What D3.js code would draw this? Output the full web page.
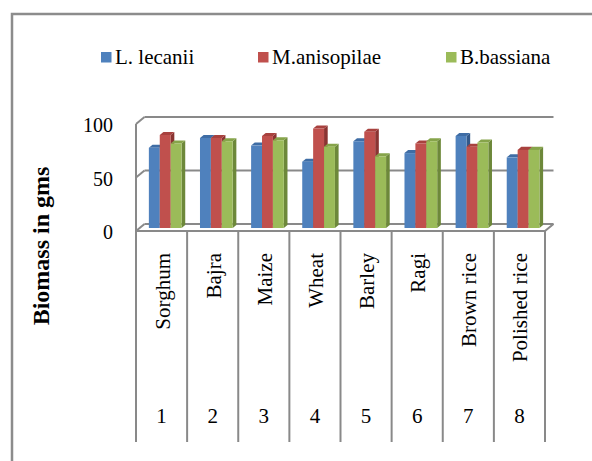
<!DOCTYPE html>
<html>
<head>
<meta charset="utf-8">
<script src="https://cdn.jsdelivr.net/npm/d3@7"></script>
<style>
  html, body { margin: 0; padding: 0; background: #fff; }
  svg { display: block; }
  text { font-family: "Liberation Serif", "Times New Roman", serif; fill: #000; }
</style>
</head>
<body>
<script>
// Grains used as growth media
const categories = ["Sorghum", "Bajra", "Maize", "Wheat", "Barley", "Ragi", "Brown rice", "Polished rice"];
const categoryNumbers = ["1", "2", "3", "4", "5", "6", "7", "8"];
const seriesNames = ["L. lecanii", "M.anisopilae", "B.bassiana"];
// Biomass (gms) per fungus
const lecanii     = [75, 84, 77, 62, 81, 70, 86, 66];
const anisopilae  = [87, 84, 86, 93, 90, 79, 76, 73];
const bassiana    = [79, 81, 82, 76, 67, 81, 80, 73];
const yTicks = [0, 50, 100];

const seriesValues = [lecanii, anisopilae, bassiana];
const palette = [
  { front: "#4F81BD", side: "#33598A", top: "#3F6DA5" },
  { front: "#C0504D", side: "#8A3432", top: "#A8413E" },
  { front: "#9BBB59", side: "#6D883A", top: "#86A44A" }
];

const W = 592, H = 461;
const svg = d3.select("body").append("svg").attr("width", W).attr("height", H);

// Outer chart frame
svg.append("rect")
  .attr("x", 12).attr("y", 14).attr("width", 620).attr("height", 480)
  .attr("fill", "none").attr("stroke", "#8c8c8c").attr("stroke-width", 2.5);

// Oblique 3D projection: depth d in [0,1] from front to back
const depthDX = 8.5, depthDY = -7;
const P = (px, py, d) => [px + depthDX * d, py + depthDY * d];

const x = d3.scaleBand().domain(categories).range([136, 545]);
const y = d3.scaleLinear().domain([0, 100]).range([231, 124]);

const gridColor = "#898989";
const line = d3.line();
const walls = svg.append("g").attr("fill", "none").attr("stroke", gridColor).attr("stroke-width", 2);

// Back wall gridlines and side wall diagonals
yTicks.forEach(t => {
  walls.append("path").attr("d", line([P(136, y(t), 1), P(545, y(t), 1)]));
  walls.append("path").attr("d", line([P(136, y(t), 0), P(136, y(t), 1)]));
});
// Side wall front edge
walls.append("path").attr("d", line([[136, y(100)], [136, y(0)]]));
// Floor front edge and right edge
walls.append("path").attr("d", line([[136, y(0)], [545, y(0)], P(545, y(0), 1)]));

// Category dividers below the floor
const dividerX = categories.map(c => x(c)).concat([x.range()[1]]);
svg.append("g").attr("stroke", gridColor).attr("stroke-width", 2)
  .selectAll("line").data(dividerX).join("line")
  .attr("x1", d => d).attr("x2", d => d)
  .attr("y1", y(0)).attr("y2", 442);

// Y axis tick labels
svg.append("g").selectAll("text").data(yTicks).join("text")
  .attr("x", 113).attr("y", d => y(d) + 1)
  .attr("text-anchor", "end").attr("dominant-baseline", "central")
  .attr("font-size", 20)
  .text(d => d);

// 3D clustered columns
const groupX = d3.scaleBand().domain(categories).range([136, 545])
  .paddingInner(0.36).paddingOuter(0.18);
const barX = d3.scaleBand().domain(seriesNames).range([0, groupX.bandwidth()]);
const d0 = 0.43, d1 = 0.86;

const bars = svg.append("g");
categories.forEach((cat, ci) => {
  seriesNames.forEach((s, si) => {
    const v = seriesValues[si][ci];
    const xl = groupX(cat) + barX(s);
    const xr = xl + barX.bandwidth();
    const yt = y(v), yb = y(0);
    const col = palette[si];
    const poly = pts => "M" + pts.map(p => p.join(",")).join("L") + "Z";
    bars.append("path").attr("fill", col.side)
      .attr("d", poly([P(xr, yt, d0), P(xr, yt, d1), P(xr, yb, d1), P(xr, yb, d0)]));
    bars.append("path").attr("fill", col.top)
      .attr("d", poly([P(xl, yt, d0), P(xr, yt, d0), P(xr, yt, d1), P(xl, yt, d1)]));
    bars.append("path").attr("fill", col.front)
      .attr("d", poly([P(xl, yt, d0), P(xr, yt, d0), P(xr, yb, d0), P(xl, yb, d0)]));
  });
});

// Category names, rotated
svg.append("g").selectAll("text").data(categories).join("text")
  .attr("transform", d => `translate(${x(d) + x.bandwidth() / 2 + 8},253) rotate(-90)`)
  .attr("text-anchor", "end")
  .attr("font-size", 21)
  .text(d => d);

// Category numbers
svg.append("g").selectAll("text").data(categories).join("text")
  .attr("x", d => x(d) + x.bandwidth() / 2)
  .attr("y", 423)
  .attr("text-anchor", "middle")
  .attr("font-size", 21)
  .text((d, i) => categoryNumbers[i]);

// Y axis title
svg.append("text")
  .attr("transform", "translate(49,246) rotate(-90)")
  .attr("text-anchor", "middle")
  .attr("font-size", 24).attr("font-weight", "bold")
  .text("Biomass in gms");

// Legend
const legendX = [101, 258, 446];
const legend = svg.append("g").selectAll("g").data(seriesNames).join("g")
  .attr("transform", (d, i) => `translate(${legendX[i]},52)`);
legend.append("rect").attr("width", 10.5).attr("height", 10.5)
  .attr("fill", (d, i) => palette[i].front);
legend.append("text").attr("x", 14).attr("y", 11.5)
  .attr("font-size", 21)
  .text(d => d);
</script>
</body>
</html>
